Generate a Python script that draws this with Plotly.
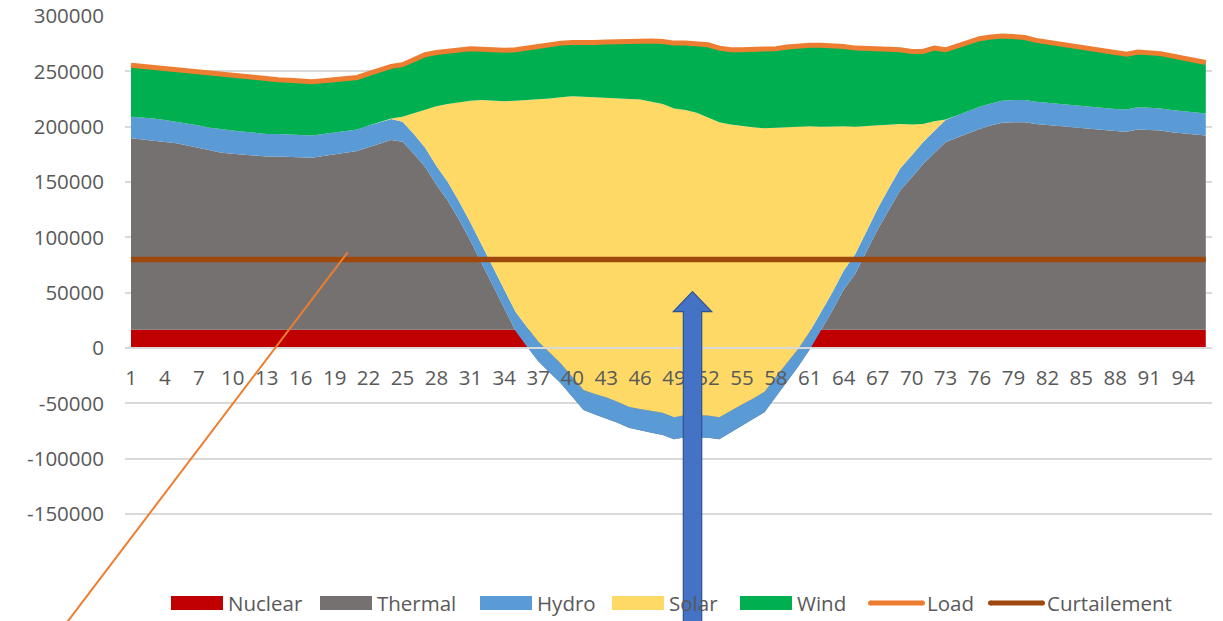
import plotly.graph_objects as go

# Quarter-hour periods of the day and the axis ticks
periods = list(range(1, 97))
x_tick_values = list(range(1, 95, 3))
y_tick_values = [-150000, -100000, -50000, 0, 50000, 100000, 150000, 200000, 250000, 300000]

# Generation mix per period (MW)
nuclear = [
    16500, 16500, 16500, 16500, 16500, 16500, 16500, 16500, 16500, 16500, 16500, 16500, 16500, 16500, 16500, 16500,
    16500, 16500, 16500, 16500, 16500, 16500, 16500, 16500, 16500, 16500, 16500, 16500, 16500, 16500, 16500, 16500,
    16500, 16500, 16500, 16500, 16500, 16500, 16500, 16500, 16500, 16500, 16500, 16500, 16500, 16500, 16500, 16500,
    16500, 16500, 16500, 16500, 16500, 16500, 16500, 16500, 16500, 16500, 16500, 16500, 16500, 16500, 16500, 16500,
    16500, 16500, 16500, 16500, 16500, 16500, 16500, 16500, 16500, 16500, 16500, 16500, 16500, 16500, 16500, 16500,
    16500, 16500, 16500, 16500, 16500, 16500, 16500, 16500, 16500, 16500, 16500, 16500, 16500, 16500, 16500, 16500,
]
thermal = [
    173000, 172000, 171000, 170000, 168500, 166500, 164500, 162000, 160000, 159000, 158000, 157000, 156500,
    156500, 156000, 156000, 155500, 157000, 158500, 160000, 161500, 165000, 168500, 171500, 170000,
    159000, 147000, 131000, 116500, 99500, 80500, 60500, 40000, 19500, -1000, -15000, -28500, -38500,
    -48500, -60500, -72500, -76500, -80000, -84000, -88500, -91000, -93000, -95000, -99000, -97000,
    -97000, -97500, -99000, -93000, -87000, -81000, -74500, -60500, -46500, -33000, -17500, 0, 17500,
    36500, 50500, 70500, 90500, 108500, 126000, 137500, 149500, 159500, 169500, 173500, 177500,
    181500, 184500, 187000, 187500, 187500, 186000, 185000, 184000, 183000, 182000, 181500,
    180500, 179500, 179000, 181000, 180500, 180000, 178500, 177500, 176500, 175500,
]
hydro = [
    19500, 20000, 20000, 19500, 19500, 20000, 20000, 20500, 21000, 21000, 21000, 21000, 20500,
    20500, 20500, 20000, 20000, 20000, 20000, 20000, 19500, 19500, 19000, 19000, 18000,
    18000, 17500, 17000, 17000, 16500, 16500, 16500, 16500, 17000, 17000, 17500, 18000, 18000,
    18000, 18000, 18000, 18500, 19000, 19000, 19000, 19500, 19500, 20000, 20000, 20000,
    20000, 20000, 20000, 20000, 19500, 19000, 18500, 18000, 17000, 16000, 16000, 16000, 16500,
    17000, 17500, 18000, 19000, 19500, 20000, 20000, 20000, 20000, 20000, 20000, 20000,
    20000, 20000, 20000, 20000, 20000, 20000, 20000, 20000, 20000, 20000, 20000,
    20000, 20000, 20000, 20000, 20000, 20000, 20000, 20000, 20000, 20000,
]
solar = [
    0, 0, 0, 0, 0, 0, 0, 0, 0, 0, 0, 0, 0,
    0, 0, 0, 0, 0, 0, 0, 0, 0, 0, 500, 4500,
    18500, 34000, 54000, 70500, 89500, 110000, 130500, 150500, 170000, 191000, 205000, 218500, 229500,
    240500, 253500, 265000, 268000, 271000, 274500, 278500, 279500, 279500, 279000, 279000, 275500,
    273000, 269000, 266500, 258500, 251500, 245000, 238000, 225000, 212500, 201000, 185500, 167500, 150000,
    130500, 115500, 95500, 75000, 57500, 40000, 28000, 16500, 9000, 500, 0, 0,
    0, 0, 0, 0, 0, 0, 0, 0, 0, 0, 0,
    0, 0, 0, 0, 0, 0, 0, 0, 0, 0,
]
wind = [
    46500, 46000, 46000, 46500, 47000, 47500, 48500, 49000, 49000, 49000, 49500, 49500, 49500,
    49000, 49000, 49000, 48500, 48000, 47500, 47000, 47000, 47000, 47500, 47000, 47000,
    49000, 50000, 48500, 48000, 48000, 47000, 46000, 45500, 46000, 46000, 47000, 48500, 49000,
    49000, 48500, 48500, 49500, 50000, 51000, 51500, 53000, 55000, 56500, 59000, 60500,
    62500, 66000, 67000, 67500, 69000, 70000, 71000, 71500, 72500, 72500, 73000, 73500, 73000,
    72000, 71000, 70500, 69500, 68000, 67000, 66000, 65500, 66000, 63000, 62500, 62000,
    61500, 60000, 58500, 57500, 56500, 55500, 55000, 54500, 54000, 54000, 53000,
    52500, 51500, 50000, 50000, 50000, 49500, 49000, 48000, 47000, 46000,
]
load = [
    255500, 254500, 253500, 252500, 251500, 250500, 249500, 248000, 246500, 245500, 245000, 244000, 243000,
    242500, 242000, 241500, 240500, 241500, 242500, 243500, 244500, 248000, 251500, 254500, 256000,
    261000, 265000, 267000, 268500, 270000, 270500, 270000, 269000, 269000, 269500, 271000, 273000, 274500,
    275500, 276000, 275500, 276000, 276500, 277000, 277000, 277500, 277500, 277000, 275500, 275500,
    275000, 274000, 271000, 269500, 269500, 269500, 269500, 270500, 272000, 273000, 273500, 273500, 273500,
    272500, 271000, 271000, 270500, 270000, 269500, 268000, 268000, 271000, 269500, 272500, 276000,
    279500, 281000, 282000, 281500, 280500, 278000, 276500, 275000, 273500, 272500, 271000,
    269500, 267500, 265500, 267500, 267000, 266000, 264000, 262000, 260000, 258000,
]
curtailement = [
    80000, 80000, 80000, 80000, 80000, 80000, 80000, 80000, 80000, 80000, 80000, 80000, 80000, 80000, 80000, 80000,
    80000, 80000, 80000, 80000, 80000, 80000, 80000, 80000, 80000, 80000, 80000, 80000, 80000, 80000, 80000, 80000,
    80000, 80000, 80000, 80000, 80000, 80000, 80000, 80000, 80000, 80000, 80000, 80000, 80000, 80000, 80000, 80000,
    80000, 80000, 80000, 80000, 80000, 80000, 80000, 80000, 80000, 80000, 80000, 80000, 80000, 80000, 80000, 80000,
    80000, 80000, 80000, 80000, 80000, 80000, 80000, 80000, 80000, 80000, 80000, 80000, 80000, 80000, 80000, 80000,
    80000, 80000, 80000, 80000, 80000, 80000, 80000, 80000, 80000, 80000, 80000, 80000, 80000, 80000, 80000, 80000,
]

FONT = "Open Sans"
TEXT = "#595959"
GRID = "#D9D9D9"
FONT_SIZE = 20.5

W, H = 1223, 621
M_L, M_R, M_T, M_B = 125, 11, 16, 56
Y_MIN, Y_MAX = -196000, 300000
X_MIN, X_MAX = 0.47, 96.55


def px_x(px):
    """Horizontal pixel -> paper fraction."""
    return (px - M_L) / (W - M_L - M_R)


def px_y(py):
    """Vertical pixel (from top) -> paper fraction."""
    return (H - M_B - py) / (H - M_T - M_B)


fig = go.Figure()

areas = [
    ("Nuclear", nuclear, "#C00000"),
    ("Thermal", thermal, "#767171"),
    ("Hydro", hydro, "#5B9BD5"),
    ("Solar", solar, "#FFD966"),
    ("Wind", wind, "#00B050"),
]
for name, values, color in areas:
    fig.add_trace(go.Scatter(
        x=periods, y=values, name=name, mode="lines",
        stackgroup="mix", line=dict(width=0, color=color),
        fillcolor=color, hoverinfo="skip",
    ))

lines = [
    ("Load", load, "#ED7D31", 5),
    ("Curtailement", curtailement, "#9E480E", 5.5),
]
for name, values, color, width in lines:
    fig.add_trace(go.Scatter(
        x=periods, y=values, name=name, mode="lines",
        line=dict(color=color, width=width),
    ))

zero_pos = (0 - Y_MIN) / (Y_MAX - Y_MIN)

fig.update_layout(
    width=W, height=H,
    margin=dict(l=M_L, r=M_R, t=M_T, b=M_B, autoexpand=False),
    paper_bgcolor="white", plot_bgcolor="white",
    font=dict(family=FONT, size=FONT_SIZE, color=TEXT),
    showlegend=False,
    xaxis=dict(
        range=[X_MIN, X_MAX], tickmode="array", tickvals=x_tick_values,
        ticktext=[str(v) for v in x_tick_values],
        showgrid=False, zeroline=False, showline=True, linecolor=GRID, linewidth=1.5,
        anchor="free", position=zero_pos, ticks="", ticklabelstandoff=12,
        layer="above traces", automargin=False,
    ),
    yaxis=dict(
        range=[Y_MIN, Y_MAX], tickmode="array", tickvals=y_tick_values,
        ticktext=[str(v) for v in y_tick_values],
        showgrid=True, gridcolor=GRID, gridwidth=1.5, zeroline=False, showline=False,
        ticks="", ticklabelstandoff=20, automargin=False,
    ),
)

# Legend row under the plot: wide swatches for the blocks, short strokes for the lines
LEG_Y = 603
legend_boxes = [(name, color, left) for (name, _, color), left in zip(areas, [171, 320, 480, 612, 740])]
for name, color, left in legend_boxes:
    fig.add_shape(
        type="rect", xref="paper", yref="paper",
        x0=px_x(left), x1=px_x(left + 52), y0=px_y(LEG_Y + 7), y1=px_y(LEG_Y - 7),
        fillcolor=color, line=dict(width=0),
    )
    fig.add_annotation(
        xref="paper", yref="paper", x=px_x(left + 55), y=px_y(LEG_Y),
        xanchor="left", yanchor="middle", text=name, showarrow=False,
        font=dict(family=FONT, size=FONT_SIZE, color=TEXT),
    )
legend_strokes = [(name, color, left) for (name, _, color, _), left in zip(lines, [868, 988])]
for name, color, left in legend_strokes:
    fig.add_shape(
        type="line", xref="paper", yref="paper",
        x0=px_x(left + 2.5), x1=px_x(left + 54.5), y0=px_y(LEG_Y), y1=px_y(LEG_Y),
        line=dict(color=color, width=5),
    )
    fig.add_shape(
        type="circle", xref="paper", yref="paper",
        x0=px_x(left), x1=px_x(left + 5), y0=px_y(LEG_Y + 2.5), y1=px_y(LEG_Y - 2.5),
        fillcolor=color, line=dict(width=0),
    )
    fig.add_shape(
        type="circle", xref="paper", yref="paper",
        x0=px_x(left + 52), x1=px_x(left + 57), y0=px_y(LEG_Y + 2.5), y1=px_y(LEG_Y - 2.5),
        fillcolor=color, line=dict(width=0),
    )
    fig.add_annotation(
        xref="paper", yref="paper", x=px_x(left + 57), y=px_y(LEG_Y),
        xanchor="left", yanchor="middle", text=name, showarrow=False,
        font=dict(family=FONT, size=FONT_SIZE, color=TEXT),
    )

# Callout leader pointing into the thermal block
fig.add_shape(
    type="line", xref="paper", yref="paper",
    x0=px_x(53.6), y0=px_y(640), x1=px_x(347.7), y1=px_y(252.3),
    line=dict(color="#ED7D31", width=2),
)

# Block arrow pointing up into the solar surplus
shaft_l, shaft_r, head_l, head_r, tip_x = 683.3, 701.7, 673.3, 711.7, 692.5
head_base, tip_y, bottom = 311.7, 291.7, 640
pts = [
    (shaft_l, bottom), (shaft_l, head_base), (head_l, head_base), (tip_x, tip_y),
    (head_r, head_base), (shaft_r, head_base), (shaft_r, bottom),
]
path = "M " + " L ".join(f"{px_x(a):.5f},{px_y(b):.5f}" for a, b in pts) + " Z"
fig.add_shape(
    type="path", xref="paper", yref="paper", path=path,
    fillcolor="#4472C4", line=dict(color="#2F528F", width=1.2),
)

fig.write_html("out.html")
